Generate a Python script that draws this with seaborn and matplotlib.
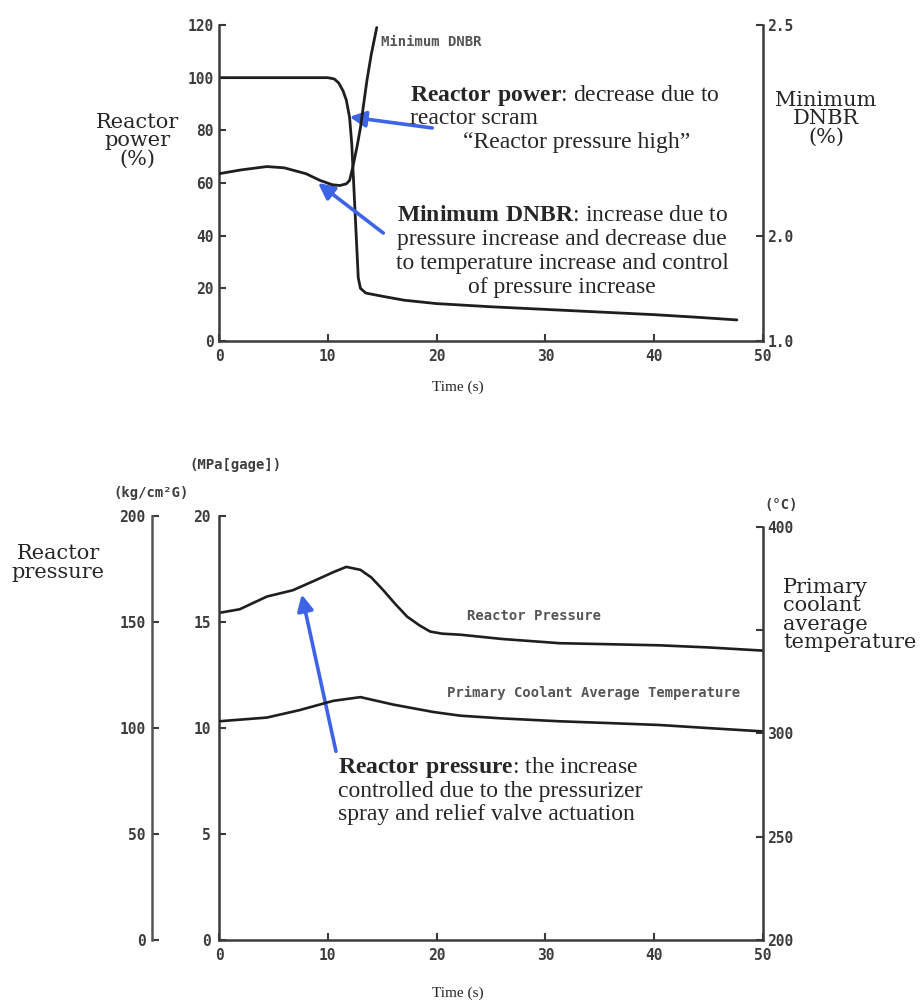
import numpy as np
import matplotlib
matplotlib.use("Agg")
import matplotlib.pyplot as plt
import seaborn as sns

# ---------------- data ----------------
# top panel
time_power = [0, 5, 10, 10.6, 11.0, 11.4, 11.7, 12.0, 12.2, 12.4, 12.6, 12.8, 13.0, 13.5,
              15, 17, 20, 25, 30, 35, 40, 44, 47.6]
reactor_power = [100, 100, 100, 99.5, 98, 95, 91.5, 85, 75, 58, 41, 24, 20, 18.2,
                 17, 15.5, 14.2, 13, 12, 11, 10, 9, 8]
time_dnbr = [0, 2, 4.4, 6, 8, 9.3, 10.4, 11.1, 11.7, 12.0, 12.3, 12.7, 13.0, 13.3, 13.6, 14.0, 14.5]
min_dnbr = [2.147, 2.156, 2.164, 2.161, 2.147, 2.131, 2.121, 2.119, 2.123, 2.131, 2.163,
            2.213, 2.256, 2.313, 2.369, 2.431, 2.494]
power_ticks = [0, 20, 40, 60, 80, 100, 120]
dnbr_ticks = [1.0, 2.0, 2.5]
dnbr_tick_labels = ["1.0", "2.0", "2.5"]
time_ticks = [0, 10, 20, 30, 40, 50]

# bottom panel
time_press = [0, 1.9, 4.4, 6.8, 9.0, 10.5, 11.7, 13.0, 14.0, 15.1, 16.2, 17.3, 18.4, 19.4,
              20.5, 22.2, 26, 31.3, 36, 40.5, 45, 50]
reactor_pressure = [15.43, 15.6, 16.2, 16.5, 17.0, 17.35, 17.6, 17.46, 17.1, 16.5, 15.85, 15.25,
                    14.85, 14.55, 14.45, 14.4, 14.2, 14.0, 13.95, 13.9, 13.8, 13.65]
time_temp = [0, 4.4, 7.4, 10.5, 13, 16, 19.7, 22.2, 26, 31.3, 36, 40.5, 45, 50]
coolant_temp = [305.9, 307.7, 311.3, 315.8, 317.6, 314.0, 310.4, 308.6, 307.3, 305.9, 305.0,
                304.1, 302.6, 301.0]
mpa_ticks = [0, 5, 10, 15, 20]
kg_ticks = [0, 50, 100, 150, 200]
temp_ticks = [200, 250, 300, 350, 400]
temp_tick_labels = ["200", "250", "300", "", "400"]

# ---------------- style ----------------
sns.set_style("ticks")
plt.rcParams["font.family"] = ["Liberation Serif", "DejaVu Serif"]
plt.rcParams["mathtext.fontset"] = "custom"
plt.rcParams["mathtext.rm"] = "Liberation Serif"
plt.rcParams["mathtext.bf"] = "Liberation Serif:bold"

W, H = 922, 1005
fig = plt.figure(figsize=(W / 100, H / 100), dpi=100)

def fx(x):
    return x / W

def fy(y):
    return 1 - y / H

LINE = "#1e1e1e"
SPINE = "#3a3a3a"
TICKC = "#3c3c3c"
BLUE = "#3d63e6"
tickfont = dict(family="DejaVu Sans Mono", weight="bold", size=10.5)
smallfont = dict(family="DejaVu Sans Mono", weight="bold", size=10)

def style_axis(a, sides):
    for s in ["top", "bottom", "left", "right"]:
        a.spines[s].set_visible(s in sides)
        a.spines[s].set_color(SPINE)
        a.spines[s].set_linewidth(1.8)
    a.tick_params(direction="in", length=5, width=1.5, color=SPINE, labelcolor=TICKC)

def set_labels(labels):
    for t in labels:
        t.set_fontfamily(tickfont["family"])
        t.set_fontweight(tickfont["weight"])
        t.set_fontsize(tickfont["size"])

tf = 17
side = dict(family="DejaVu Serif", size=15, linespacing=0.95)
arrow = dict(arrowstyle="-|>", color=BLUE, lw=2.6, mutation_scale=24, shrinkA=0, shrinkB=0)

# ================= TOP PANEL =================
ax1 = fig.add_axes([fx(219), fy(341), fx(763) - fx(219), fy(25) - fy(341)])
ax1.set_facecolor("none")
sns.lineplot(x=time_power, y=reactor_power, ax=ax1, color=LINE, lw=2.0, estimator=None, sort=False)
ax1.set_xlim(0, 50)
ax1.set_ylim(0, 120)
ax1.set_xticks(time_ticks)
ax1.set_yticks(power_ticks)
style_axis(ax1, ["left", "bottom"])
ax1.tick_params(axis="x", pad=6)
ax1.tick_params(axis="y", pad=4)
set_labels(ax1.get_xticklabels() + ax1.get_yticklabels())
ax1.set_xlabel("")
ax1.set_ylabel("")

ax2 = ax1.twinx()
fwd = lambda v: np.interp(v, [1.0, 2.0, 2.5], [0.0, 40.0, 120.0])
inv = lambda u: np.interp(u, [0.0, 40.0, 120.0], [1.0, 2.0, 2.5])
ax2.set_yscale("function", functions=(fwd, inv))
sns.lineplot(x=time_dnbr, y=min_dnbr, ax=ax2, color=LINE, lw=2.0, estimator=None, sort=False)
ax2.set_ylim(1.0, 2.5)
ax2.set_yticks(dnbr_ticks)
ax2.set_yticklabels(dnbr_tick_labels)
ax2.yaxis.set_minor_locator(matplotlib.ticker.NullLocator())
style_axis(ax2, ["right"])
ax2.tick_params(axis="y", pad=3)
set_labels(ax2.get_yticklabels())
ax2.set_ylabel("")

ax1.text(14.9, 113.5, "Minimum DNBR", color="#555555", **smallfont, va="center", ha="left")

fig.text(fx(410), fy(101), r"$\mathbf{Reactor\ power}$: decrease due to", fontsize=tf, va="baseline")
fig.text(fx(410), fy(124), "reactor scram", fontsize=tf, va="baseline")
fig.text(fx(463), fy(148), "\u201cReactor pressure high\u201d", fontsize=tf, va="baseline")
for txt, yb in [(r"$\mathbf{Minimum\ DNBR}$: increase due to", 221),
                ("pressure increase and decrease due", 245),
                ("to temperature increase and control", 269),
                ("of pressure increase", 293)]:
    fig.text(fx(562), fy(yb), txt, fontsize=tf, va="baseline", ha="center")

ax1.annotate("", xy=(12.0, 85.1), xytext=(19.6, 80.9), arrowprops=arrow)
ax1.annotate("", xy=(9.1, 60.0), xytext=(15.1, 41.0), arrowprops=arrow)

fig.text(fx(137), fy(141), "Reactor\npower\n(%)", ha="center", va="center", **side)
fig.text(fx(826), fy(119), "Minimum\nDNBR\n(%)", ha="center", va="center", **side)
fig.text(fx(458), fy(387), "Time (s)", ha="center", va="center", fontsize=11)

# ================= BOTTOM PANEL =================
B_TOP, B_BOT = 516, 940
ax3 = fig.add_axes([fx(219), fy(B_BOT), fx(763) - fx(219), fy(B_TOP) - fy(B_BOT)])
ax3.set_facecolor("none")
sns.lineplot(x=time_press, y=reactor_pressure, ax=ax3, color=LINE, lw=1.9, estimator=None, sort=False)
ax3.set_xlim(0, 50)
ax3.set_ylim(0, 20)
ax3.set_xticks(time_ticks)
ax3.set_yticks(mpa_ticks)
style_axis(ax3, ["left", "bottom"])
ax3.tick_params(axis="x", pad=6)
ax3.tick_params(axis="y", pad=6)
set_labels(ax3.get_xticklabels() + ax3.get_yticklabels())
ax3.set_xlabel("")
ax3.set_ylabel("")

ax4 = ax3.twinx()
sns.lineplot(x=time_temp, y=coolant_temp, ax=ax4, color=LINE, lw=1.9, estimator=None, sort=False)
ax4.set_ylim(200, 405.3)
ax4.set_yticks(temp_ticks)
ax4.set_yticklabels(temp_tick_labels)
style_axis(ax4, ["right"])
ax4.spines["right"].set_bounds(200, 400)
ax4.tick_params(axis="y", pad=3)
set_labels(ax4.get_yticklabels())
ax4.set_ylabel("")

ax5 = ax3.twinx()
ax5.set_ylim(0, 200)
ax5.set_yticks(kg_ticks)
ax5.yaxis.set_ticks_position("left")
ax5.yaxis.set_label_position("left")
style_axis(ax5, ["left"])
ax5.spines["left"].set_position(("outward", 48))
ax5.spines["left"].set_color("#555555")
ax5.tick_params(axis="y", pad=5)
set_labels(ax5.get_yticklabels())

ax3.text(22.8, 15.3, "Reactor Pressure", color="#555555", **smallfont, va="center", ha="left")
ax3.text(21.0, 11.65, "Primary Coolant Average Temperature", color="#555555", **smallfont,
         va="center", ha="left")

fig.text(fx(235), fy(465), "(MPa[gage])", ha="center", va="center", color=TICKC, **smallfont)
fig.text(fx(151), fy(493), "(kg/cm\u00b2G)", ha="center", va="center", color=TICKC, **smallfont)
fig.text(fx(781), fy(505), "(\u00b0C)", ha="center", va="center", color=TICKC, **smallfont)

ax3.annotate("", xy=(7.6, 16.3), xytext=(10.75, 8.9), arrowprops=arrow)
for txt, yb in [(r"$\mathbf{Reactor\ pressure}$: the increase", 773),
                ("controlled due to the pressurizer", 797),
                ("spray and relief valve actuation", 820)]:
    fig.text(fx(338), fy(yb), txt, fontsize=tf, va="baseline", ha="left")

fig.text(fx(58), fy(563), "Reactor\npressure", ha="center", va="center", **side)
fig.text(fx(783), fy(615), "Primary\ncoolant\naverage\ntemperature", ha="left", va="center", **side)
fig.text(fx(458), fy(993), "Time (s)", ha="center", va="center", fontsize=11)

fig.savefig("out.png", dpi=100)
